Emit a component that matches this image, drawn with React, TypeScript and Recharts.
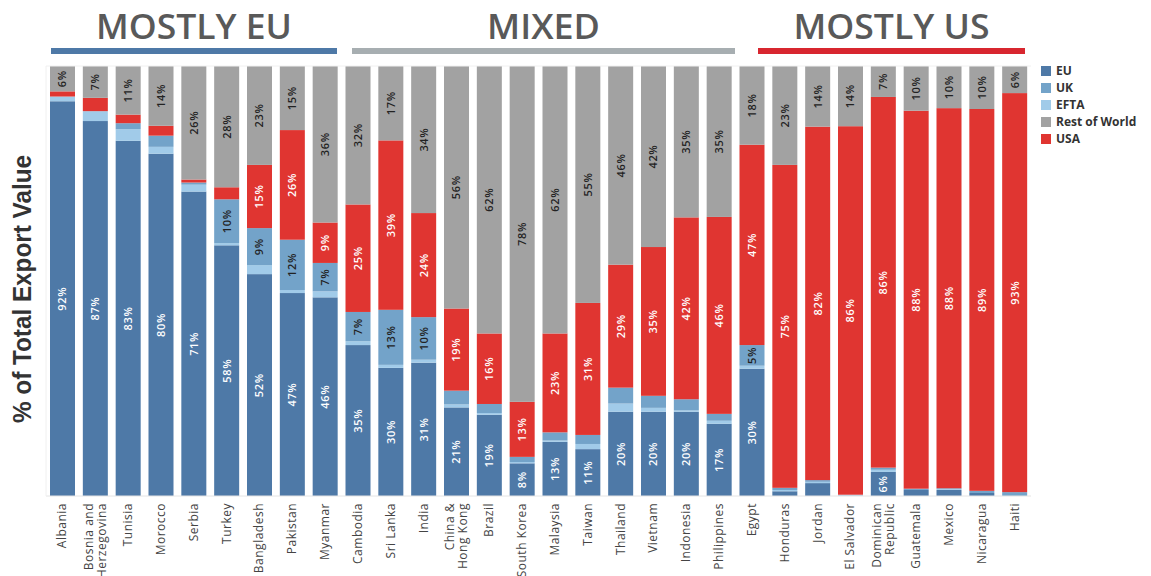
import React from 'react';
import {BarChart, Bar, XAxis, YAxis} from 'recharts';

// category names ("\n" = line break in the tick label)
const countries = [
    'Albania', 'Bosnia and\nHerzegovina', 'Tunisia', 'Morocco', 'Serbia', 'Turkey', 'Bangladesh', 'Pakistan', 'Myanmar',
    'Cambodia', 'Sri Lanka', 'India', 'China &\nHong Kong', 'Brazil', 'South Korea', 'Malaysia', 'Taiwan', 'Thailand',
    'Vietnam', 'Indonesia', 'Philippines',
    'Egypt', 'Honduras', 'Jordan', 'El Salvador', 'Dominican\nRepublic', 'Guatemala', 'Mexico', 'Nicaragua', 'Haiti',
];

// share of total export value, %
const euValues = [91.8, 87.2, 82.6, 79.6, 70.8, 58.3, 51.6, 47.2, 46.2, 35.1, 29.8, 31.0, 20.6, 18.9, 7.6, 12.6, 10.9, 19.6, 19.6, 19.6, 16.8, 29.6, 1.1, 3.0, 0.1, 5.6, 1.4, 1.4, 0.7, 0];
const eftaValues = [1.1, 2.3, 2.7, 1.6, 1.6, 0.5, 2.1, 0.7, 1.4, 0.9, 0.7, 0.7, 0.7, 0.4, 0.3, 0.3, 1.2, 1.9, 0.9, 0.3, 0.7, 0.7, 0.3, 0.3, 0.2, 0.5, 0, 0.2, 0, 0];
const ukValues = [0, 0, 1.4, 2.6, 0.5, 10.2, 8.6, 11.7, 6.6, 6.8, 12.8, 9.9, 3.2, 2.1, 1.2, 1.9, 2.1, 3.7, 2.8, 2.6, 1.6, 4.8, 0.5, 0.4, 0, 0.5, 0.3, 0.2, 0.5, 0.9];
const usaValues = [1.2, 3.1, 2.0, 2.3, 0.7, 2.8, 14.7, 25.5, 9.4, 25.0, 39.4, 24.2, 19.1, 16.4, 12.8, 23.0, 30.7, 28.6, 34.6, 42.3, 45.8, 46.6, 75.1, 82.2, 85.7, 86.2, 87.9, 88.4, 88.8, 92.8];
const rowValues = [5.9, 7.4, 11.3, 13.9, 26.4, 28.2, 23.0, 14.9, 36.4, 32.2, 17.3, 34.2, 56.4, 62.2, 78.1, 62.2, 55.1, 46.2, 42.1, 35.2, 35.1, 18.3, 23.0, 14.1, 14.0, 7.2, 10.4, 9.8, 10.0, 6.3];

const groups = [
    {label: 'MOSTLY EU', x1: 51, x2: 337, color: '#4e79a7', textLen: 196},
    {label: 'MIXED', x1: 352, x2: 735, color: '#a7aeb1', textLen: 113},
    {label: 'MOSTLY US', x1: 758, x2: 1025, color: '#d8262f', textLen: 196},
];

const series = [
    {key: 'eu', name: 'EU', color: '#4e79a7', text: '#ffffff'},
    {key: 'efta', name: 'EFTA', color: '#a1cbe9', text: null},
    {key: 'uk', name: 'UK', color: '#73a3c9', text: '#222222'},
    {key: 'usa', name: 'USA', color: '#e03531', text: '#ffffff'},
    {key: 'row', name: 'Rest of World', color: '#a2a2a2', text: '#222222'},
];
const legendOrder = ['eu', 'uk', 'efta', 'row', 'usa'];

const data = countries.map((c, i) => ({
    name: c,
    eu: euValues[i],
    efta: eftaValues[i],
    uk: ukValues[i],
    usa: usaValues[i],
    row: rowValues[i],
}));

const makeShape = (key: string, textColor: string | null) => (props: any) => {
    const {x, y, width, height, fill, payload} = props;
    if (!height || height <= 0) return <g/>;
    const v = payload[key];
    const cx = x + width / 2;
    const cy = y + height / 2;
    return (
        <g>
            <rect x={x} y={y} width={width} height={height} fill={fill}/>
            {textColor && v >= 4.5 && (
                <text transform={`translate(${cx},${cy}) rotate(-90)`} textAnchor="middle" dy="0.35em"
                      fontSize={11} fontWeight={600} fontFamily="'Open Sans', sans-serif"
                      letterSpacing={0.7} fill={textColor}>
                    {Math.round(v) + '%'}
                </text>
            )}
        </g>
    );
};

const CountryTick = (props: any) => {
    const {x, y, payload} = props;
    const lines = String(payload.value).split('\n');
    const start = 4 - (lines.length - 1) * 6.5;
    return (
        <g transform={`translate(${x},${y - 1})`}>
            <text transform="rotate(-90)" textAnchor="end" fontSize={12}
                  fontFamily="'Open Sans', sans-serif" letterSpacing={0.5} fill="#444">
                {lines.map((l, i) => (
                    <tspan key={i} x={0} y={start + i * 13}>{l}</tspan>
                ))}
            </text>
        </g>
    );
};

export default function App() {
    return (
        <div style={{position: 'absolute', left: 0, top: 0, width: 1151, height: 576, background: '#fff', overflow: 'hidden'}}>
            <BarChart
                width={1151}
                height={576}
                data={data}
                margin={{top: 66, right: 120, left: 46, bottom: 0}}
                barSize={25}
            >
                <XAxis dataKey="name" interval={0} height={80} tickLine={false}
                       axisLine={{stroke: '#e4e4e4'}} tick={<CountryTick/>}/>
                <YAxis hide domain={[0, 100]} allowDataOverflow/>
                {series.map(s => (
                    <Bar key={s.key} dataKey={s.key} name={s.name} stackId="a" fill={s.color}
                         isAnimationActive={false} shape={makeShape(s.key, s.text)}/>
                ))}
            </BarChart>
            <svg width={1151} height={576} style={{position: 'absolute', left: 0, top: 0, pointerEvents: 'none'}}>
                <line x1={46} y1={66} x2={1031} y2={66} stroke="#f0f0f0"/>
                <line x1={46} y1={66} x2={46} y2={496} stroke="#f0f0f0"/>
                {groups.map(g => (
                    <g key={g.label}>
                        <text x={(g.x1 + g.x2) / 2} y={39} textAnchor="middle" fontSize={35} fontWeight={600}
                              fontFamily="'Open Sans', sans-serif" fill="#595959"
                              textLength={g.textLen} lengthAdjust="spacingAndGlyphs">{g.label}</text>
                        <rect x={g.x1} y={48} width={g.x2 - g.x1} height={6} fill={g.color}/>
                    </g>
                ))}
                <text transform="translate(31,289) rotate(-90)" textAnchor="middle" fontSize={25} fontWeight="bold"
                      fontFamily="'Liberation Sans', Arial, sans-serif" fill="#333"
                      textLength={268} lengthAdjust="spacingAndGlyphs">% of Total Export Value</text>
                {legendOrder.map((k, i) => {
                    const s = series.find(d => d.key === k)!;
                    const cy = 71 + i * 17;
                    return (
                        <g key={k}>
                            <rect x={1041} y={cy - 5} width={10} height={10} fill={s.color}/>
                            <text x={1056} y={cy} dy="0.35em" fontSize={12} fontWeight="bold"
                                  fontFamily="'Open Sans', sans-serif" fill="#333">{s.name}</text>
                        </g>
                    );
                })}
            </svg>
        </div>
    );
}
